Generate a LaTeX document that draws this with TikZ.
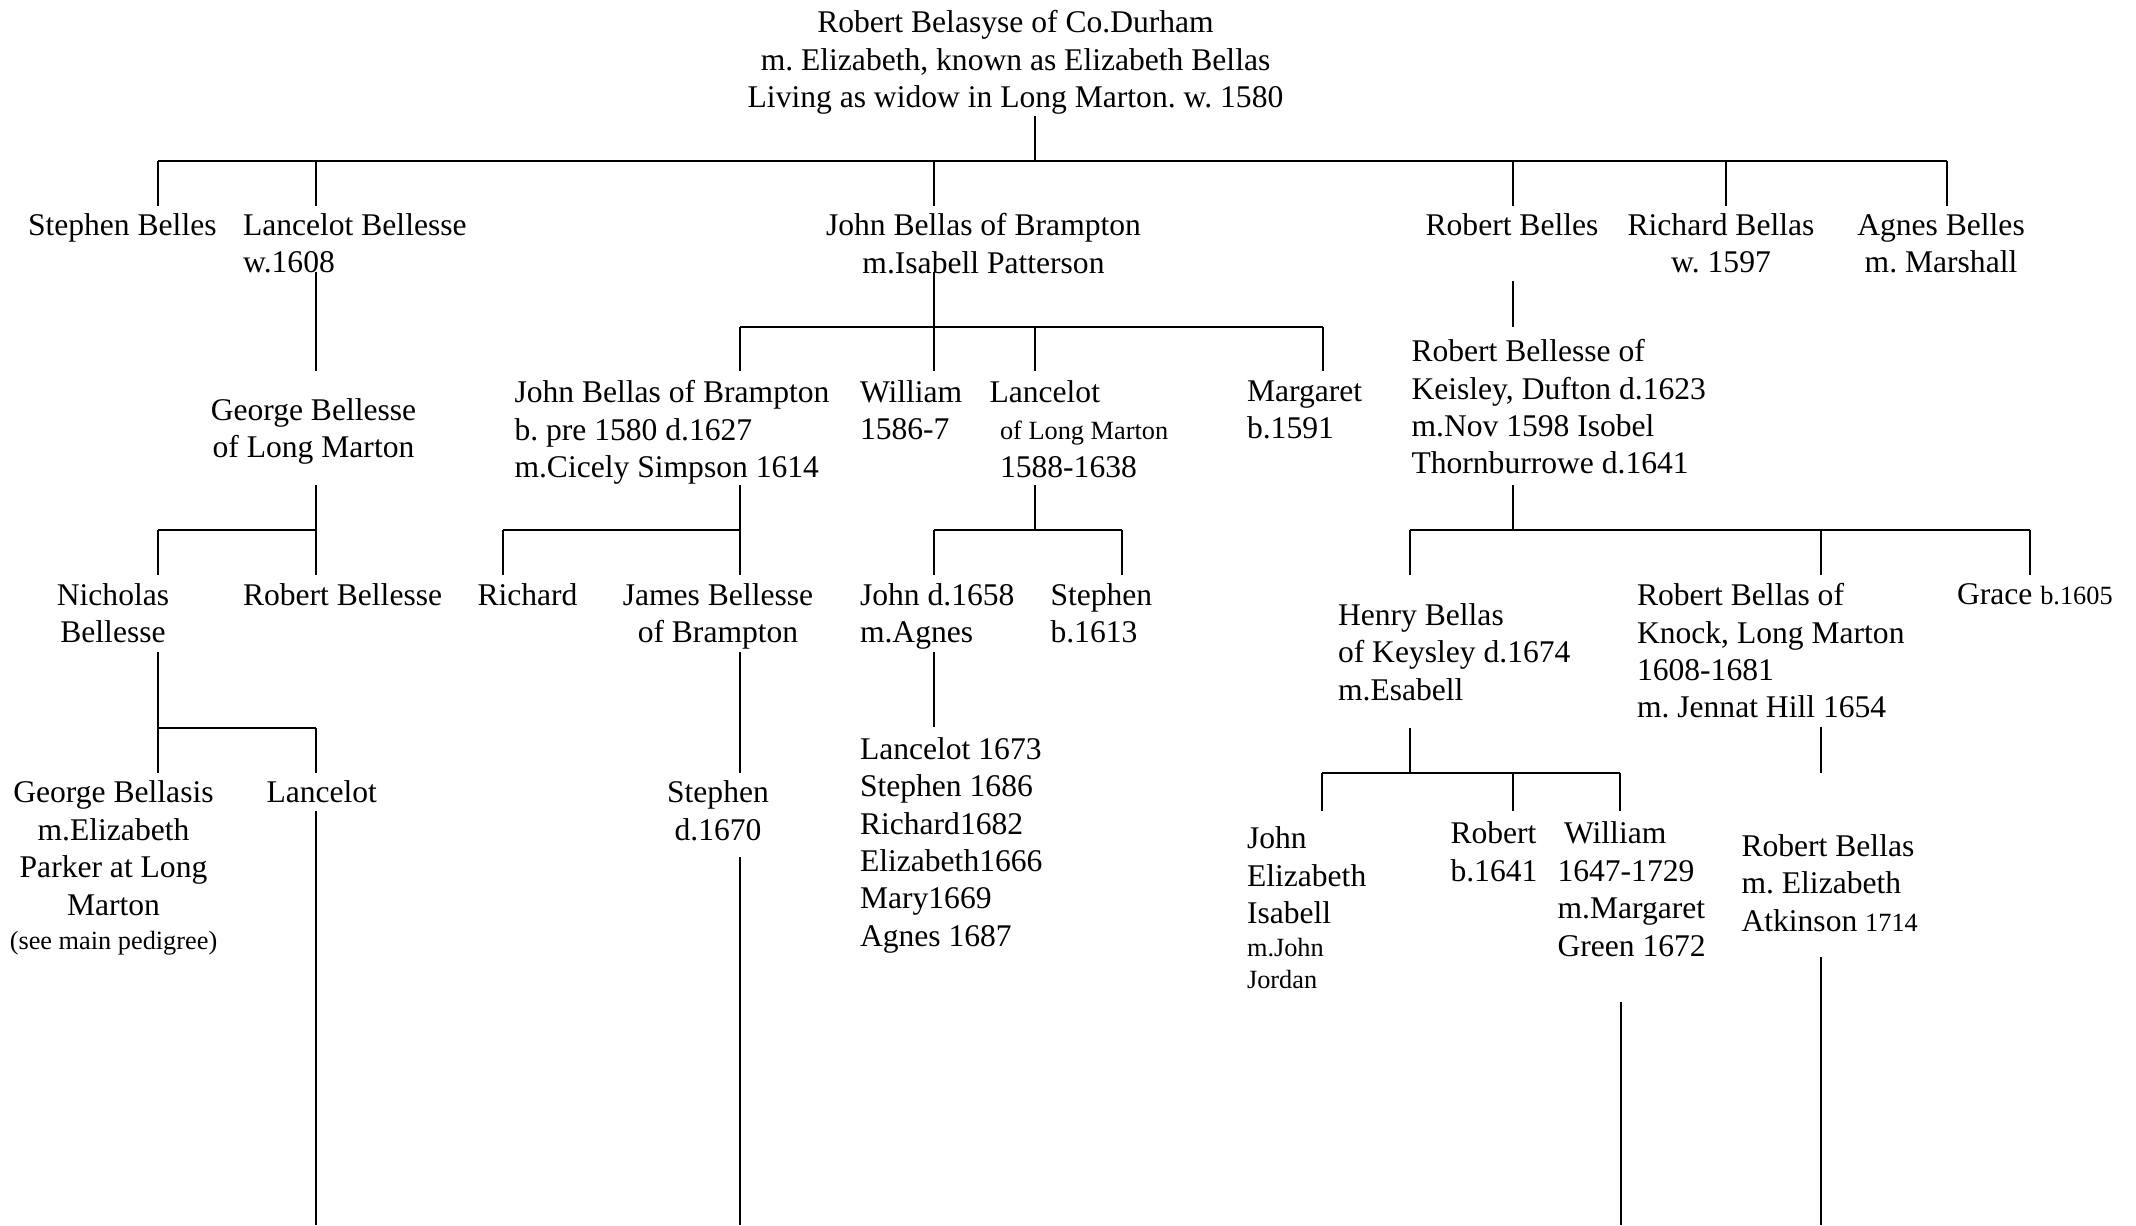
\documentclass[tikz,border=0pt]{standalone}
\usepackage{fontspec}
\setmainfont{Liberation Serif}
\usepackage{tikz}
\frenchspacing
\newcommand{\smtxt}[1]{{\fontsize{10}{12}\selectfont #1}}

\begin{document}
\begin{tikzpicture}[x=0.38pt, y=-0.38pt,
  every node/.style={inner sep=0pt, font=\fontsize{12}{14.2}\selectfont},
  lft/.style={align=left, anchor=north west},
  ctr/.style={align=center, anchor=north},
  stem/.style={line width=0.55pt},
  bus/.style={line width=0.85pt}]
\useasboundingbox (0,0) rectangle (2136,1225);

% generation 1
\node (rbel) [ctr] at (1015.5,10) {Robert Belasyse of Co.Durham\\m. Elizabeth, known as Elizabeth Bellas\\Living as widow in Long Marton. w. 1580};

% generation 2
\node (sb) [lft] at (27.5,213) {Stephen Belles};
\node (lb) [lft] at (242.5,213) {Lancelot Bellesse\\w.1608};
\node (jb) [ctr] at (983.5,213) {John Bellas of Brampton\\m.Isabell Patterson};
\node (rb) [ctr] at (1512,213) {Robert Belles};
\node (rib) [ctr] at (1721,213) {Richard Bellas\\w. 1597};
\node (ab) [ctr] at (1941,213) {Agnes Belles\\m. Marshall};

% generation 3
\node (gb) [ctr] at (313.5,398) {George Bellesse\\of Long Marton};
\node (jb2) [lft] at (514,380) {John Bellas of Brampton\\b. pre 1580 d.1627\\m.Cicely Simpson 1614};
\node (wb) [lft] at (859.5,380) {William\\1586-7};
\node (lc) [lft] at (989,380) {Lancelot\\\hspace*{4pt}\smtxt{of Long Marton}\\\hspace*{4pt}1588-1638};
\node (mg) [lft] at (1246.5,380) {Margaret\\b.1591};
\node (rk) [lft] at (1411,339) {Robert Bellesse of\\Keisley, Dufton d.1623\\m.Nov 1598 Isobel\\Thornburrowe d.1641};

% generation 4
\node (nb) [ctr] at (113,583) {Nicholas\\Bellesse};
\node (rbs) [lft] at (242.5,583) {Robert Bellesse};
\node (ri) [lft] at (477,583) {Richard};
\node (jam) [ctr] at (718,583) {James Bellesse\\of Brampton};
\node (jd) [lft] at (859.5,583) {John d.1658\\m.Agnes};
\node (st) [lft] at (1050,583) {Stephen\\b.1613};
\node (hb) [lft] at (1337.5,603) {Henry Bellas\\of Keysley d.1674\\m.Esabell};
\node (rk2) [lft] at (1636.5,583) {Robert Bellas of\\Knock, Long Marton\\1608-1681\\m. Jennat Hill 1654};
\node (gr) [lft] at (1956.5,583) {Grace \smtxt{b.1605}};

% generation 5
\node (gbs) [ctr] at (113.5,780.5) {George Bellasis\\m.Elizabeth\\Parker at Long\\Marton\\[-1.1pt]\smtxt{(see main pedigree)}};
\node (lan) [lft] at (266,780.5) {Lancelot};
\node (sd) [ctr] at (718,780.5) {Stephen\\d.1670};
\node (kids) [lft] at (859.5,737) {Lancelot 1673\\Stephen 1686\\Richard1682\\Elizabeth1666\\Mary1669\\Agnes 1687};
\node (jei) [lft] at (1246.5,826.5) {John\\Elizabeth\\Isabell\\[-1.8pt]\smtxt{m.John}\\[-1.8pt]\smtxt{Jordan}};
\node (rob) [lft] at (1450,821.5) {Robert\\b.1641};
\node (wil) [lft] at (1557,821.5) {\hspace*{2.5pt}William\\1647-1729\\m.Margaret\\Green 1672};
\node (rbe) [lft] at (1741,834) {Robert Bellas\\m. Elizabeth\\Atkinson \smtxt{1714}};

% where the lines meet each name
\foreach \n/\x/\y in {sb/158/206, lb/316/206, jb/934/206, rb/1513/206, rib/1726/206, ab/1947/206,
    gb/316/371, jb2/740/371, wb/934/371, lc/1035/371, mg/1323/371, rk/1513/327,
    nb/158/575, rbs/316/575, ri/503/575, jam/740/575, jd/934/575, st/1122/575,
    hb/1410/575, rk2/1821/575, gr/2030/575,
    gbs/158/773, lan/316/773, sd/740/773, kids/934/727, jei/1322/811, rob/1513/811,
    wil/1620/811, rbe/1821/773}
  \coordinate (\n-u) at (\x,\y);
\foreach \n/\x/\y in {rbel/1035/116, lb/316/272, jb/934/272, rb/1513/281, gb/316/485,
    jb2/740/485, lc/1035/485, rk/1513/485, nb/158/652, jam/740/652, jd/934/652,
    hb/1410/728, rk2/1821/727, lan/316/811, sd/740/857, wil/1621/1002, rbe/1821/957}
  \coordinate (\n-d) at (\x,\y);
\coordinate (foot) at (0,1225);

% families with a bar
\foreach \p/\k/\a/\b/\cs in {rbel/161/sb/ab/{sb,lb,jb,rb,rib,ab}, jb/327/jb2/mg/{jb2,wb,lc,mg},
    gb/530/nb/rbs/{nb,rbs}, jb2/530/ri/jam/{ri,jam}, lc/530/jd/st/{jd,st},
    rk/530/hb/gr/{hb,rk2,gr}, nb/728/gbs/lan/{gbs,lan}, hb/773/jei/wil/{jei,rob,wil}} {
  \coordinate (k) at (\p-d |- 0,\k);
  \draw[stem] (\p-d) -- (k);
  \draw[bus] (\a-u |- k) -- (\b-u |- k);
  \foreach \c in \cs \draw[stem] (\c-u |- k) -- (\c-u);
}

% single lines
\draw[stem] (lb-d) -- (gb-u);
\draw[stem] (rb-d) -- (rk-u);
\draw[stem] (jam-d) -- (sd-u);
\draw[stem] (jd-d) -- (kids-u);
\draw[stem] (rk2-d) -- (rbe-u);
\foreach \c in {lan,sd,wil,rbe} \draw[stem] (\c-d) -- (\c-d |- foot);
\end{tikzpicture}
\end{document}
